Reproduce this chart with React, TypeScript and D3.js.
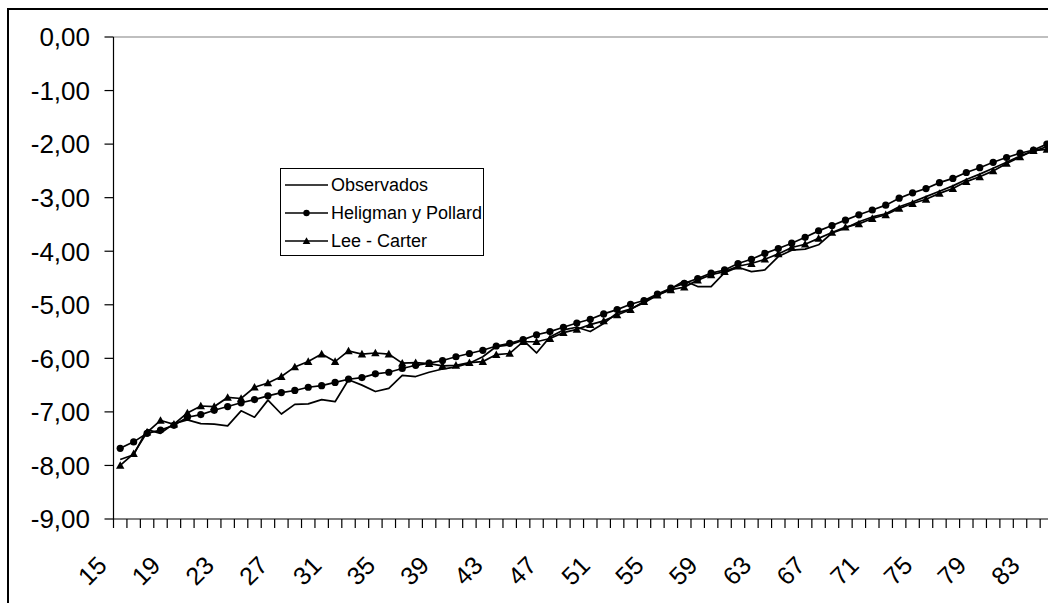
import React from "react";
import * as d3 from "d3";

const ages: number[] = [];
for (let a = 15; a <= 85; a++) ages.push(a);

const observados = [
  -7.89, -7.80, -7.33, -7.40, -7.22, -7.15, -7.22, -7.23, -7.26, -6.98,
  -7.10, -6.78, -7.04, -6.86, -6.85, -6.77, -6.81, -6.40, -6.50, -6.62,
  -6.56, -6.32, -6.34, -6.26, -6.20, -6.16, -6.09, -5.97, -5.78, -5.75,
  -5.66, -5.90, -5.60, -5.47, -5.42, -5.50, -5.35, -5.15, -5.08, -4.96,
  -4.82, -4.70, -4.55, -4.66, -4.66, -4.40, -4.30, -4.38, -4.35, -4.10,
  -3.98, -3.96, -3.88, -3.66, -3.57, -3.45, -3.36, -3.30, -3.17, -3.08,
  -2.98, -2.88, -2.78, -2.66, -2.56, -2.45, -2.34, -2.22, -2.13, -2.05,
  -1.98,
];

const heligman = [
  -7.68, -7.56, -7.40, -7.34, -7.25, -7.10, -7.05, -6.97, -6.90, -6.83,
  -6.77, -6.70, -6.64, -6.60, -6.54, -6.51, -6.45, -6.39, -6.36, -6.29,
  -6.26, -6.19, -6.13, -6.09, -6.04, -5.97, -5.91, -5.85, -5.77, -5.72,
  -5.65, -5.56, -5.50, -5.42, -5.34, -5.27, -5.17, -5.09, -4.99, -4.92,
  -4.80, -4.69, -4.60, -4.51, -4.41, -4.35, -4.23, -4.15, -4.04, -3.95,
  -3.85, -3.74, -3.62, -3.52, -3.42, -3.32, -3.23, -3.14, -3.01, -2.91,
  -2.83, -2.72, -2.64, -2.53, -2.44, -2.34, -2.25, -2.17, -2.11, -2.00,
  -1.91,
];

const leeCarter = [
  -8.00, -7.78, -7.38, -7.16, -7.23, -7.02, -6.89, -6.90, -6.73, -6.75,
  -6.54, -6.46, -6.34, -6.16, -6.06, -5.92, -6.06, -5.86, -5.92, -5.90,
  -5.92, -6.09, -6.08, -6.10, -6.14, -6.13, -6.08, -6.06, -5.93, -5.91,
  -5.69, -5.69, -5.63, -5.52, -5.46, -5.37, -5.30, -5.19, -5.09, -4.94,
  -4.82, -4.72, -4.67, -4.54, -4.44, -4.38, -4.28, -4.23, -4.15, -4.05,
  -3.93, -3.87, -3.76, -3.65, -3.55, -3.49, -3.39, -3.32, -3.20, -3.11,
  -3.03, -2.92, -2.83, -2.70, -2.61, -2.50, -2.36, -2.24, -2.12, -2.10,
  -2.00,
];

const yTicks = [0, -1, -2, -3, -4, -5, -6, -7, -8, -9];
const xLabelAges = [15, 19, 23, 27, 31, 35, 39, 43, 47, 51, 55, 59, 63, 67, 71, 75, 79, 83];

const legendItems = ["Observados", "Heligman y Pollard", "Lee - Carter"];

const FONT = "'Liberation Sans', Arial, sans-serif";

export default function App() {
  const W = 1048;
  const H = 603;
  const left = 113.5;
  const band = 13.43;
  const top = 37;
  const bottom = 519;

  const x = d3
    .scaleBand<number>()
    .domain(ages)
    .range([left, left + band * ages.length])
    .padding(0);
  const y = d3.scaleLinear().domain([-9, 0]).range([bottom, top]);
  const cx = (a: number) => (x(a) as number) + x.bandwidth() / 2;

  const line = d3
    .line<number>()
    .x((_, i) => cx(ages[i]))
    .y((d) => y(d));

  const tri = (px: number, py: number, s = 4.2) =>
    `M${px},${py - s}L${px + s},${py + s * 0.8}L${px - s},${py + s * 0.8}Z`;

  const right = left + band * ages.length;

  return (
    <div
      style={{
        position: "fixed",
        left: 0,
        top: 0,
        width: W,
        height: H,
        overflow: "hidden",
        background: "#fff",
      }}
    >
      <svg width={W} height={H} style={{ display: "block" }}>
        <rect x={0} y={0} width={W} height={H} fill="#fff" />
        {/* outer chart border */}
        <rect x={8} y={9} width={W + 20} height={H + 20} fill="none" stroke="#000" strokeWidth={2} />

        {/* plot area top border */}
        <line x1={left} x2={right} y1={top} y2={top} stroke="#808080" strokeWidth={1.2} />

        {/* y axis */}
        <line x1={left} x2={left} y1={top} y2={bottom} stroke="#000" strokeWidth={1.2} />
        {yTicks.map((t) => (
          <g key={t}>
            <line x1={left - 9} x2={left} y1={y(t)} y2={y(t)} stroke="#000" strokeWidth={1.2} />
            <text
              x={90}
              y={y(t)}
              dy="0.36em"
              textAnchor="end"
              fontFamily={FONT}
              fontSize={26}
              fill="#000"
            >
              {d3.format(".2f")(t).replace("−", "-").replace(".", ",")}
            </text>
          </g>
        ))}

        {/* x axis */}
        <line x1={left} x2={right} y1={bottom} y2={bottom} stroke="#000" strokeWidth={1.2} />
        {ages.map((a) => (
          <line
            key={a}
            x1={x(a) as number}
            x2={x(a) as number}
            y1={bottom}
            y2={bottom + 9}
            stroke="#000"
            strokeWidth={1.2}
          />
        ))}
        {xLabelAges.map((a) => (
          <text
            key={a}
            transform={`translate(${cx(a) - 12},${bottom + 48}) rotate(-45)`}
            textAnchor="end"
            fontFamily={FONT}
            fontSize={25}
            fill="#000"
          >
            {a}
          </text>
        ))}

        {/* series */}
        <path d={line(observados) || ""} fill="none" stroke="#000" strokeWidth={1.7} strokeLinejoin="round" />
        <path d={line(heligman) || ""} fill="none" stroke="#000" strokeWidth={1.7} />
        <path d={line(leeCarter) || ""} fill="none" stroke="#000" strokeWidth={1.7} />
        {heligman.map((v, i) => (
          <circle key={"h" + i} cx={cx(ages[i])} cy={y(v)} r={3.6} fill="#000" />
        ))}
        {leeCarter.map((v, i) => (
          <path key={"l" + i} d={tri(cx(ages[i]), y(v))} fill="#000" />
        ))}

        {/* legend */}
        <rect x={280.5} y={168.5} width={203} height={87} fill="#fff" stroke="#000" strokeWidth={1} />
        {legendItems.map((name, i) => {
          const ly = 185 + i * 28;
          return (
            <g key={name}>
              <line x1={285} x2={328} y1={ly} y2={ly} stroke="#000" strokeWidth={1.5} />
              {i === 1 && <circle cx={306.5} cy={ly} r={3.2} fill="#000" />}
              {i === 2 && <path d={tri(306.5, ly, 3.8)} fill="#000" />}
              <text x={331} y={ly} dy="0.36em" fontFamily={FONT} fontSize={18} fill="#000">
                {name}
              </text>
            </g>
          );
        })}
      </svg>
    </div>
  );
}
